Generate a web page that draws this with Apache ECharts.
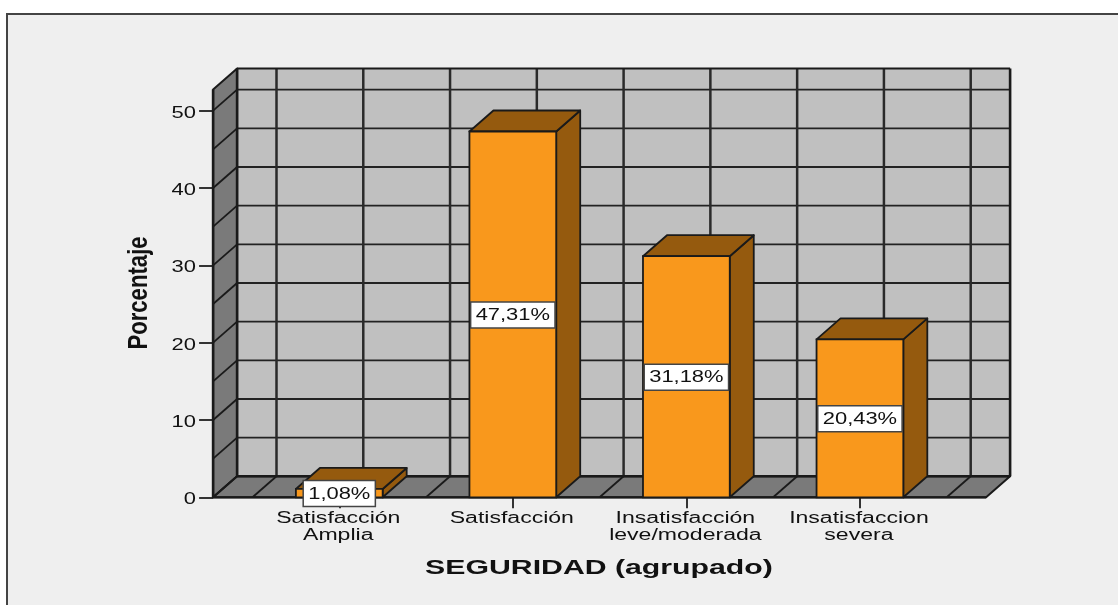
<!DOCTYPE html>
<html><head><meta charset="utf-8">
<style>html,body{margin:0;padding:0;background:#fff}#c{width:1118px;height:605px}</style>
<script src="https://cdn.jsdelivr.net/npm/echarts@6/dist/echarts.min.js"></script>
</head><body><div id="c"></div>
<script>
const categories = ['Satisfacción\nAmplia','Satisfacción','Insatisfacción\nleve/moderada','Insatisfaccion\nsevera'];
const values = [1.08,47.31,31.18,20.43];
const valueLabels = ['1,08%','47,31%','31,18%','20,43%'];
const yTicks = [0,10,20,30,40,50];
const yGrid = [0,5,10,15,20,25,30,35,40,45,50];
const yMax = 52.74;
const xTitle = 'SEGURIDAD (agrupado)';
const yTitle = 'Porcentaje';

const DX=24, DY=21, PAD=39.4, SX=1.37;
const INK='#1a1a1a', WALL='#c0c0c0', SIDE='#7a7a7a', FACE='#f9981c', DARK='#955a0e';
const FONT='"Liberation Sans", Arial, sans-serif';
const meas=document.createElement('canvas').getContext('2d');

function line(x1,y1,x2,y2,w,color){return {type:'line',shape:{x1,y1,x2,y2},style:{stroke:color||INK,lineWidth:w||1.5}};}
function poly(points,fill,w){return {type:'polygon',shape:{points},style:{fill,stroke:INK,lineWidth:w||1.5,lineJoin:'round'}};}
function text(t,x,y,o){o=o||{};return {type:'text',x,y,scaleX:o.sx||SX,rotation:o.rot||0,z2:o.z2||5,
  style:{text:t,x:0,y:0,fill:o.fill||'#111',align:o.align||'center',verticalAlign:o.va||'middle',lineHeight:17,
  font:(o.weight||'normal')+' '+(o.size||16)+'px '+FONT}};}

function renderFrame(params,api){
  const band=api.size([1,0])[0];
  const x0=api.coord([0,0])[0]-band/2;
  const y0=api.coord([0,0])[1];
  const yT=api.coord([0,yMax])[1];
  const L=x0-PAD, R=x0+band*categories.length+PAD;
  const c=[];
  c.push({type:'rect',shape:{x:L+DX,y:yT-DY,width:R-L,height:y0-yT},style:{fill:WALL}});
  c.push(poly([[L,y0],[L+DX,y0-DY],[L+DX,yT-DY],[L,yT]],SIDE,2));
  c.push(poly([[L,y0],[L+DX,y0-DY],[R+DX,y0-DY],[R,y0]],SIDE,2));
  yGrid.forEach(v=>{
    const y=api.coord([0,v])[1];
    if(v>0){c.push(line(L+DX,y-DY,R+DX,y-DY,1.8,'#222'));}
    c.push(line(L,y,L+DX,y-DY,1.8));
  });
  for(let k=0;k<=categories.length*2;k++){
    const x=x0+k*band/2;
    c.push(line(x+DX,yT-DY,x+DX,y0-DY,2.5,'#2a2a2a'));
    c.push(line(x,y0,x+DX,y0-DY,1.8));
  }
  c.push(line(L+DX,yT-DY,R+DX,yT-DY,2.2));
  c.push(line(R+DX,yT-DY,R+DX,y0-DY,2.6));
  c.push(line(L+DX,y0-DY,R+DX,y0-DY,2.6));
  c.push(line(L+DX,yT-DY,L+DX,y0-DY,2.6));
  c.push(line(L,yT,L,y0,2.6));
  c.push(line(L,y0,R,y0,2.2));
  yTicks.forEach(v=>{c.push(text(String(v),196,api.coord([0,v])[1]+2.5,{align:'right'}));});
  categories.forEach((n,i)=>{c.push(text(n,api.coord([i,0])[0]-1,510,{va:'top',sx:1.44}));});
  c.push(text(xTitle,599,568,{size:21,weight:'bold',sx:1.44}));
  c.push(text(yTitle,140,293,{size:27,weight:'bold',sx:0.82,rot:Math.PI/2}));
  return {type:'group',children:c};
}

function renderBar(params,api){
  const i=api.value(0), v=api.value(1);
  const [cx,yv]=api.coord([i,v]);
  const y0=api.coord([i,0])[1];
  const hw=api.size([1,0])[0]/4;
  const l=cx-hw,r=cx+hw;
  const lab=valueLabels[i];
  meas.font='16px "Liberation Sans"';
  const w=meas.measureText(lab).width*SX+10;
  const my=(yv+y0)/2;
  return {type:'group',children:[
    poly([[r,y0],[r+DX,y0-DY],[r+DX,yv-DY],[r,yv]],DARK,1.8),
    poly([[l,yv],[l+DX,yv-DY],[r+DX,yv-DY],[r,yv]],DARK,1.8),
    {type:'rect',shape:{x:l,y:yv,width:r-l,height:y0-yv},style:{fill:FACE,stroke:INK,lineWidth:1.8}},
    {type:'rect',z2:4,shape:{x:cx-w/2,y:my-12.5,width:w,height:26},style:{fill:'#fff',stroke:'#444',lineWidth:1.5}},
    text(lab,cx,my+1,{})
  ]};
}

const chart=echarts.init(document.getElementById('c'),null,{renderer:'canvas'});
chart.setOption({
  animation:false,
  backgroundColor:'#fff',
  graphic:[{type:'rect',z:-10,shape:{x:7,y:14,width:1300,height:800},style:{fill:'#efefef',stroke:'#444',lineWidth:2}}],
  grid:{left:252.5,width:694.2,top:89.5,height:407.8},
  xAxis:{type:'category',data:categories,axisLine:{show:false},
    axisTick:{show:true,alignWithLabel:true,length:11,lineStyle:{color:'#333',width:2}},
    axisLabel:{show:false},splitLine:{show:false}},
  yAxis:{type:'value',min:0,max:yMax,offset:39.4,axisLine:{show:false},
    axisTick:{show:true,length:14,customValues:yTicks,lineStyle:{color:'#333',width:2}},
    axisLabel:{show:false},splitLine:{show:false}},
  series:[
    {type:'custom',z:1,clip:false,silent:true,data:[[0,0]],renderItem:renderFrame,encode:{x:0,y:1}},
    {type:'custom',z:2,clip:false,silent:true,data:values.map((v,i)=>[i,v]),renderItem:renderBar,encode:{x:0,y:1}}
  ]
});
</script></body></html>
